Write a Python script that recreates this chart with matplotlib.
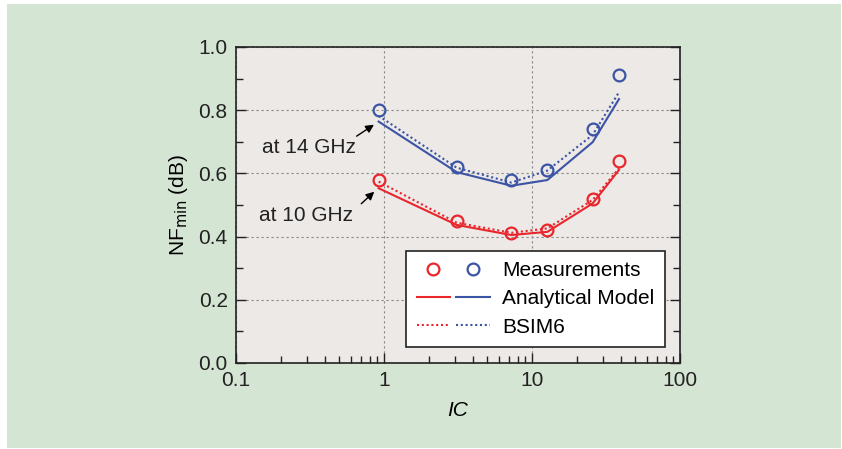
import matplotlib.pyplot as plt
from matplotlib.patches import Rectangle
from matplotlib.lines import Line2D
from matplotlib.legend_handler import HandlerTuple
from matplotlib.ticker import LogLocator, FixedLocator, FormatStrFormatter

plt.rcParams['font.family'] = ['Liberation Sans', 'DejaVu Sans']

ic = [0.92, 3.1, 7.25, 12.7, 25.7, 38.7]

meas_14 = [0.80, 0.62, 0.58, 0.61, 0.74, 0.91]
model_14 = [0.764, 0.604, 0.561, 0.579, 0.699, 0.835]
bsim_14 = [0.782, 0.618, 0.571, 0.609, 0.722, 0.857]

meas_10 = [0.58, 0.45, 0.41, 0.42, 0.52, 0.64]
model_10 = [0.553, 0.437, 0.405, 0.415, 0.505, 0.611]
bsim_10 = [0.574, 0.444, 0.412, 0.426, 0.516, 0.616]

RED = '#e8262c'
BLUE = '#3b54a4'
DOT = (0, (1, 1.3))
FS = 15

fig = plt.figure(figsize=(8.42, 4.49), dpi=100)
fig.patch.set_facecolor('white')
fig.patches.append(Rectangle((7 / 842, 1 - 448 / 449), 834 / 842, 444 / 449,
                             transform=fig.transFigure, facecolor='#d5e5d3',
                             edgecolor='none', zorder=-10))

ax = fig.add_axes([236 / 842, 1 - 363 / 449, 444 / 842, 316 / 449])
ax.set_facecolor('#ece9e7')

ax.plot(ic, model_14, color=BLUE, lw=1.5)
ax.plot(ic, bsim_14, color=BLUE, lw=1.5, linestyle=DOT)
ax.plot(ic, meas_14, 'o', ms=8.5, mfc='none', mec=BLUE, mew=1.6)
ax.plot(ic, model_10, color=RED, lw=1.5)
ax.plot(ic, bsim_10, color=RED, lw=1.5, linestyle=DOT)
ax.plot(ic, meas_10, 'o', ms=8.5, mfc='none', mec=RED, mew=1.6)

ax.set_xscale('log')
ax.set_xlim(0.1, 100)
ax.set_ylim(0, 1.0)
ax.set_xticks([0.1, 1, 10, 100], ['0.1', '1', '10', '100'])
ax.xaxis.set_minor_locator(LogLocator(base=10, subs=range(2, 10)))
ax.yaxis.set_major_locator(FixedLocator([0, 0.2, 0.4, 0.6, 0.8, 1.0]))
ax.yaxis.set_minor_locator(FixedLocator([0.1, 0.3, 0.5, 0.7, 0.9]))
ax.yaxis.set_major_formatter(FormatStrFormatter('%.1f'))
ax.tick_params(which='both', direction='in', right=True, top=False,
               labelsize=FS, colors='#222222', pad=6)
ax.tick_params(which='major', length=7, width=1)
ax.tick_params(which='minor', length=5, width=1)
for s in ax.spines.values():
    s.set_linewidth(1.2)
    s.set_color('#222222')
ax.grid(True, which='major', color='#888888', linestyle=(0, (2, 2.5)), lw=0.8)

ax.set_xlabel('IC', fontsize=FS, style='italic', labelpad=8)
ax.set_ylabel('NF$_{\\mathrm{min}}$ (dB)', fontsize=FS, labelpad=6)

ax.annotate('', xy=(0.887, 0.759), xytext=(0.63, 0.713),
            arrowprops=dict(arrowstyle='-|>', color='black', lw=1, mutation_scale=12))
ax.text(0.313, 0.681, 'at 14 GHz', fontsize=FS, ha='center', va='center', color='#222222')
ax.annotate('', xy=(0.887, 0.548), xytext=(0.68, 0.498),
            arrowprops=dict(arrowstyle='-|>', color='black', lw=1, mutation_scale=12))
ax.text(0.299, 0.468, 'at 10 GHz', fontsize=FS, ha='center', va='center', color='#222222')

h_meas = (Line2D([], [], ls='none', marker='o', ms=8.5, mfc='none', mec=RED, mew=1.6),
          Line2D([], [], ls='none', marker='o', ms=8.5, mfc='none', mec=BLUE, mew=1.6))
h_model = (Line2D([], [], color=RED, lw=1.5), Line2D([], [], color=BLUE, lw=1.5))
h_bsim = (Line2D([], [], color=RED, lw=1.5, ls=DOT), Line2D([], [], color=BLUE, lw=1.5, ls=DOT))
leg = ax.legend([h_meas, h_model, h_bsim], ['Measurements', 'Analytical Model', 'BSIM6'],
                handler_map={tuple: HandlerTuple(ndivide=None, pad=0.3)},
                loc='lower right', bbox_to_anchor=(0.966, 0.05), fontsize=FS,
                handlelength=3.5, frameon=True, fancybox=False, edgecolor='#222222',
                framealpha=1, borderpad=0.5, labelspacing=0.45, handletextpad=0.6,
                borderaxespad=0)
leg.get_frame().set_linewidth(1.2)

fig.savefig('out.png', dpi=100, facecolor=fig.get_facecolor())
